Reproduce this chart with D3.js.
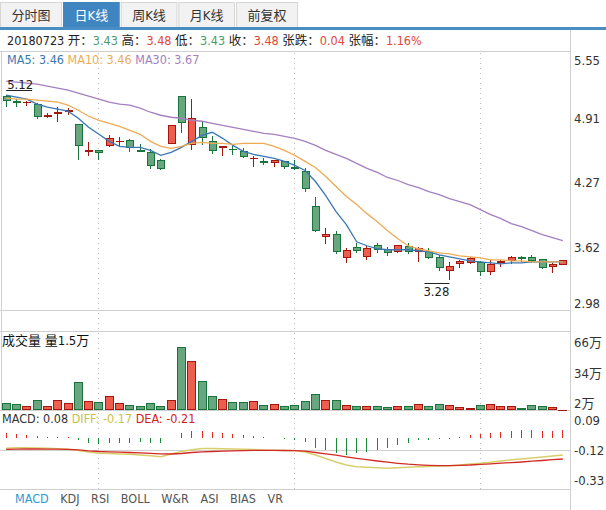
<!DOCTYPE html>
<html>
<head>
<meta charset="utf-8">
<script src="https://cdn.jsdelivr.net/npm/d3@7"></script>
<style>
body { margin: 0; background: #fff; }
svg { display: block; font-family: "DejaVu Sans Condensed", "Liberation Sans", "Noto Sans CJK SC", sans-serif; }
</style>
</head>
<body>
<div id="chart"></div>
<script>
// tabs and indicator names
var tabs = ["分时图", "日K线", "周K线", "月K线", "前复权"];
var activeTab = 1;
var indicators = ["MACD", "KDJ", "RSI", "BOLL", "W&R", "ASI", "BIAS", "VR"];
var lastDate = "20180723";

// daily candles (oldest first)
var opens = [5.11,5.06,5.04,5.03,4.90,4.93,4.95,4.83,4.55,4.57, 4.61,4.65,4.67,4.57,4.55,4.47,4.63,5.11,4.62,4.80,
             4.66,4.59,4.58,4.56,4.48,4.46,4.44,4.46,4.40,4.36, 4.02,3.71,3.74,3.50,3.61,3.51,3.63,3.59,3.56,3.62,
             3.56,3.57,3.51,3.37,3.44,3.45,3.46,3.36,3.45,3.47, 3.51,3.51,3.49,3.41,3.43];
var highs = [5.12,5.08,5.06,5.04,4.94,5.00,4.99,4.83,4.65,4.57, 4.72,4.70,4.68,4.63,4.58,4.48,4.82,5.11,5.08,4.86,
             4.71,4.61,4.61,4.59,4.51,4.49,4.47,4.46,4.47,4.39, 4.11,3.80,3.77,3.60,3.65,3.62,3.65,3.61,3.63,3.65,
             3.61,3.60,3.53,3.46,3.48,3.51,3.47,3.48,3.48,3.52, 3.52,3.53,3.49,3.45,3.48];
var lows = [5.00,5.00,5.01,4.88,4.89,4.85,4.92,4.47,4.51,4.47, 4.60,4.61,4.55,4.55,4.38,4.37,4.63,4.74,4.57,4.62,
            4.53,4.51,4.52,4.49,4.40,4.42,4.40,4.38,4.37,4.16, 3.76,3.64,3.54,3.45,3.55,3.48,3.55,3.52,3.55,3.54,
            3.46,3.49,3.37,3.28,3.40,3.44,3.32,3.33,3.41,3.44, 3.46,3.45,3.39,3.35,3.43];
var closes = [5.06,5.04,5.05,4.90,4.92,4.95,4.97,4.61,4.57,4.54, 4.69,4.66,4.59,4.55,4.41,4.38,4.82,4.84,4.89,4.69,
              4.56,4.61,4.57,4.50,4.49,4.44,4.47,4.40,4.38,4.19, 3.77,3.74,3.56,3.58,3.57,3.60,3.58,3.55,3.63,3.56,
              3.60,3.50,3.40,3.42,3.47,3.50,3.36,3.44,3.47,3.51, 3.49,3.47,3.40,3.44,3.48];

// volume, in 万
var volumes = [8.4,7.3,5.9,11.4,5.9,11.4,8.4,29.9,10.4,9.4, 15.5,8.4,6.3,5.3,8.4,5.3,11.4,65.8,51.4,30.9,
               15.5,12.5,9.4,9.4,10.4,6.3,7.3,5.3,6.3,10.4, 17.6,11.4,11.4,6.3,5.3,5.3,5.3,4.3,5.3,5.3,
               7.3,5.3,7.3,6.3,4.3,3.2,6.3,7.3,5.3,5.3, 3.2,6.3,5.3,4.3,1.5];

// moving averages
var ma5 = [5.12,5.10,5.08,5.03,5.00,4.98,4.96,4.89,4.80,4.73, 4.66,4.61,4.60,4.60,4.57,4.52,4.55,4.60,4.66,4.72,
           4.75,4.69,4.62,4.56,4.53,4.51,4.49,4.46,4.42,4.37, 4.26,4.12,3.96,3.83,3.66,3.62,3.59,3.58,3.58,3.58,
           3.57,3.56,3.53,3.51,3.49,3.47,3.46,3.45,3.44,3.45, 3.45,3.46,3.46,3.46,3.46];
var ma10 = [5.09,5.08,5.08,5.07,5.06,5.05,5.02,4.97,4.91,4.87, 4.84,4.81,4.77,4.73,4.66,4.61,4.59,4.61,4.64,4.65,
            4.64,4.64,4.63,4.64,4.64,4.64,4.61,4.57,4.52,4.46, 4.40,4.31,4.21,4.11,4.03,3.94,3.86,3.77,3.69,3.62,
            3.59,3.57,3.55,3.54,3.52,3.51,3.50,3.48,3.48,3.47, 3.47,3.46,3.46,3.46,3.46];
var ma30 = [5.26,5.25,5.24,5.23,5.21,5.19,5.17,5.14,5.11,5.08, 5.05,5.03,5.02,4.99,4.95,4.92,4.90,4.89,4.87,4.86,
            4.84,4.82,4.80,4.78,4.76,4.74,4.73,4.71,4.69,4.66, 4.62,4.57,4.53,4.49,4.44,4.39,4.35,4.30,4.27,4.23,
            4.20,4.16,4.13,4.09,4.06,4.03,3.98,3.93,3.89,3.84, 3.81,3.77,3.73,3.70,3.67];

// MACD
var diff = [-0.102,-0.098,-0.098,-0.100,-0.103,-0.107,-0.112,-0.125,-0.140,-0.152, -0.156,-0.160,-0.162,-0.170,-0.178,-0.187,-0.160,-0.135,-0.117,-0.105,
            -0.104,-0.107,-0.110,-0.113,-0.116,-0.119,-0.122,-0.124,-0.126,-0.140, -0.170,-0.205,-0.240,-0.270,-0.287,-0.293,-0.298,-0.303,-0.298,-0.293,
            -0.288,-0.284,-0.281,-0.278,-0.270,-0.260,-0.253,-0.242,-0.230,-0.218, -0.209,-0.199,-0.189,-0.180,-0.170];
var dea = [-0.113,-0.111,-0.110,-0.110,-0.111,-0.112,-0.113,-0.118,-0.128,-0.135, -0.139,-0.142,-0.145,-0.148,-0.153,-0.158,-0.160,-0.155,-0.145,-0.138,
           -0.135,-0.131,-0.128,-0.126,-0.124,-0.123,-0.124,-0.125,-0.126,-0.132, -0.145,-0.158,-0.172,-0.188,-0.203,-0.217,-0.230,-0.242,-0.253,-0.262,
           -0.268,-0.273,-0.276,-0.276,-0.273,-0.270,-0.264,-0.258,-0.252,-0.246, -0.240,-0.232,-0.225,-0.217,-0.210];
var macd = [0.047,0.037,0.030,0.020,0.013,0.010,0.010,-0.020,-0.053,-0.063, -0.053,-0.047,-0.047,-0.037,-0.047,-0.053,0.003,0.053,0.073,0.070,
            0.057,0.047,0.037,0.030,0.020,0.008,0.004,-0.013,-0.023,-0.037, -0.097,-0.120,-0.153,-0.170,-0.153,-0.137,-0.120,-0.097,-0.070,-0.047,
            -0.023,-0.017,-0.010,-0.005,0.013,0.030,0.037,0.047,0.057,0.070, 0.080,0.080,0.073,0.073,0.080];

// axis labels
var priceTicks = [5.55, 4.91, 4.27, 3.62, 2.98];
var volTicks = [66, 34, 2];
var macdTicks = [0.09, -0.12, -0.33];
var vGridAt = [9, 28, 46];

var W = 606, H = 510, right = 570;
var upFill = "#ee5e4e", upLine = "#a3170f", dnFill = "#68a680", dnLine = "#17743a";
var gridCol = "#cfcfcf";

var svg = d3.select("#chart").append("svg").attr("width", W).attr("height", H);

// --- tabs
var tx = 0;
tabs.forEach(function(t, i) {
	var g = svg.append("g");
	var txt = g.append("text").text(t).attr("y", 20).attr("font-size", 13);
	var w = txt.node().getComputedTextLength() + 23;
	g.insert("rect", "text")
		.attr("x", tx + 0.5).attr("y", 2.5).attr("width", w - 1).attr("height", 26)
		.attr("fill", i == activeTab ? "#3f86c1" : "#f2f2f2")
		.attr("stroke", i == activeTab ? "#3f86c1" : "#d6d6d6");
	txt.attr("x", tx + w / 2).attr("text-anchor", "middle")
		.attr("fill", i == activeTab ? "#fff" : "#333");
	tx += w + 1;
});
svg.append("rect").attr("x", 0).attr("y", 27).attr("width", W).attr("height", 3).attr("fill", "#4a8cc4");

// --- scales
var n = closes.length;
var x = d3.scaleBand().domain(d3.range(n)).range([1, 568]).paddingInner(0.2).paddingOuter(0.1);
function xc(i) { return x(i) + x.bandwidth() / 2; }
function xw(i) { return Math.floor(xc(i)); }

var py = d3.scaleLinear().domain([2.98, 5.55]).range([310, 52]);
var vy = d3.scaleLinear().domain([1.5, 66]).range([410, 347]);
var my = d3.scaleLinear().domain([0, -1]).range([438, 538]);
var mLabel = d3.scaleLinear().domain([0.09, -0.33]).range([420.7, 480.7]);

// --- frame lines
var frame = svg.append("g").attr("stroke", gridCol).attr("shape-rendering", "crispEdges");
[51.5, 310.5, 331.5, 410.5, 450.5, 489.5].forEach(function(y) {
	frame.append("line").attr("x1", 0).attr("x2", right).attr("y1", y).attr("y2", y);
});
frame.append("line").attr("x1", right + 0.5).attr("x2", right + 0.5).attr("y1", 30).attr("y2", H);
frame.append("line").attr("x1", 1.5).attr("x2", 1.5).attr("y1", 52).attr("y2", 410);

svg.append("g").selectAll("line").data(vGridAt).enter().append("line")
	.attr("x1", function(d) { return xw(d) + 0.5; })
	.attr("x2", function(d) { return xw(d) + 0.5; })
	.attr("y1", 53).attr("y2", 489)
	.attr("stroke", "#bdbdbd").attr("stroke-dasharray", "1,4");

// --- header
var last = n - 1;
var chg = closes[last] - closes[last - 1];
function col(v) { return v >= closes[last - 1] ? "#e0473a" : "#4c9a6c"; }
var hdr = svg.append("text").attr("x", 7).attr("y", 44.5).attr("font-size", 12.5).attr("fill", "#222");
hdr.append("tspan").text(lastDate + " ");
[["开", opens[last]], ["高", highs[last]], ["低", lows[last]], ["收", closes[last]]].forEach(function(p) {
	hdr.append("tspan").text(p[0] + "：");
	hdr.append("tspan").attr("fill", col(p[1])).text(p[1].toFixed(2) + " ");
});
hdr.append("tspan").text("张跌：");
hdr.append("tspan").attr("fill", chg >= 0 ? "#e0473a" : "#4c9a6c").text(chg.toFixed(2) + " ");
hdr.append("tspan").text("张幅：");
hdr.append("tspan").attr("fill", chg >= 0 ? "#e0473a" : "#4c9a6c")
	.text((chg / closes[last - 1] * 100).toFixed(2) + "%");

// MA legend
var maCols = ["#3b78b3", "#eeab55", "#a57fbf"];
var leg = svg.append("text").attr("x", 7).attr("y", 64).attr("font-size", 12.5);
leg.append("tspan").attr("fill", maCols[0]).text("MA5: " + ma5[last].toFixed(2) + " ");
leg.append("tspan").attr("fill", maCols[1]).text("MA10: " + ma10[last].toFixed(2) + " ");
leg.append("tspan").attr("fill", maCols[2]).text("MA30: " + ma30[last].toFixed(2));

// --- candles
var cg = svg.append("g").attr("shape-rendering", "crispEdges");
d3.range(n).forEach(function(i) {
	var up = closes[i] > opens[i];
	var w = xw(i);
	var line = up ? upLine : dnLine;
	cg.append("line").attr("x1", w + 0.5).attr("x2", w + 0.5)
		.attr("y1", py(highs[i])).attr("y2", py(lows[i])).attr("stroke", line);
	var top = Math.round(py(Math.max(opens[i], closes[i])));
	var bot = Math.round(py(Math.min(opens[i], closes[i])));
	cg.append("rect").attr("x", w - 2.5).attr("y", top + 0.5)
		.attr("width", 7).attr("height", Math.max(bot - top - 1, 0.01))
		.attr("fill", up ? upFill : dnFill).attr("stroke", line);
});

// moving average lines
var maLine = d3.line().x(function(d, i) { return xc(i); }).y(function(d) { return py(d); });
[ma5, ma10, ma30].forEach(function(s, k) {
	svg.append("path").attr("d", maLine(s)).attr("fill", "none")
		.attr("stroke", maCols[k]).attr("stroke-width", 1.3);
});

// max / min marks
var iMax = d3.maxIndex(highs), iMin = d3.minIndex(lows);
var yMax = Math.round(py(highs[iMax])) - 4.5;
svg.append("line").attr("x1", xc(iMax)).attr("x2", xc(iMax) + 26).attr("y1", yMax).attr("y2", yMax).attr("stroke", "#222");
svg.append("text").attr("x", xc(iMax) + 1).attr("y", yMax - 1.5).attr("font-size", 13).attr("fill", "#222")
	.text(highs[iMax].toFixed(2));
var yMin = Math.round(py(lows[iMin])) + 3.5;
svg.append("line").attr("x1", xc(iMin) - 25).attr("x2", xc(iMin)).attr("y1", yMin).attr("y2", yMin).attr("stroke", "#222");
svg.append("text").attr("x", xc(iMin)).attr("y", yMin + 12).attr("font-size", 13).attr("fill", "#222")
	.attr("text-anchor", "end").text(lows[iMin].toFixed(2));

// price labels
svg.append("g").selectAll("text").data(priceTicks).enter().append("text")
	.attr("x", 574).attr("y", function(d) { return Math.min(Math.max(py(d) + 2, 60.5), 303.5); })
	.attr("dy", "0.35em").attr("font-size", 13).attr("fill", "#333")
	.text(function(d) { return d.toFixed(2); });

// --- volume
svg.append("text").attr("x", 2).attr("y", 345).attr("font-size", 13).attr("fill", "#111")
	.text("成交量 量" + volumes[last] + "万");
var vg = svg.append("g").attr("shape-rendering", "crispEdges");
d3.range(n).forEach(function(i) {
	var up = closes[i] > opens[i];
	var top = Math.round(vy(volumes[i]));
	vg.append("rect").attr("x", xw(i) - 3.5).attr("y", top + 0.5)
		.attr("width", 8).attr("height", Math.max(410 - top - 1, 0.01))
		.attr("fill", up ? upFill : dnFill).attr("stroke", up ? upLine : dnLine);
});
svg.append("g").selectAll("text").data(volTicks).enter().append("text")
	.attr("x", 574).attr("y", function(d) { return Math.min(vy(d) - 5, 403); })
	.attr("dy", "0.35em").attr("font-size", 13).attr("fill", "#333")
	.text(function(d) { return d + "万"; });

// --- MACD
var mt = svg.append("text").attr("x", 2).attr("y", 423).attr("font-size", 12.5);
mt.append("tspan").attr("fill", "#333").text("MACD: " + macd[last].toFixed(2) + " ");
mt.append("tspan").attr("fill", "#c9c246").text("DIFF: " + diff[last].toFixed(2) + " ");
mt.append("tspan").attr("fill", "#d0231c").text("DEA: " + dea[last].toFixed(2));

var hg = svg.append("g").attr("shape-rendering", "crispEdges");
d3.range(n).forEach(function(i) {
	hg.append("line").attr("x1", xw(i) + 0.5).attr("x2", xw(i) + 0.5)
		.attr("y1", my(0)).attr("y2", my(macd[i]))
		.attr("stroke", macd[i] >= 0 ? "#e8281e" : "#1b8a34");
});
var mLine = d3.line().x(function(d, i) { return xc(i); }).y(function(d) { return my(d); });
svg.append("path").attr("d", mLine(diff)).attr("fill", "none").attr("stroke", "#d8cf6c").attr("stroke-width", 1.5);
svg.append("path").attr("d", mLine(dea)).attr("fill", "none").attr("stroke", "#d22a24").attr("stroke-width", 1.3);

svg.append("g").selectAll("text").data(macdTicks).enter().append("text")
	.attr("x", 574).attr("y", function(d) { return mLabel(d); })
	.attr("dy", "0.35em").attr("font-size", 13).attr("fill", "#333")
	.text(function(d) { return d.toFixed(2); });

// --- indicator tabs
var ix = 15;
indicators.forEach(function(t, i) {
	var txt = svg.append("text").attr("x", ix).attr("y", 502.5).attr("font-size", 12.5)
		.attr("fill", i == 0 ? "#2c9bd3" : "#555").text(t);
	ix += txt.node().getComputedTextLength() + 11.5;
});
</script>
</body>
</html>
